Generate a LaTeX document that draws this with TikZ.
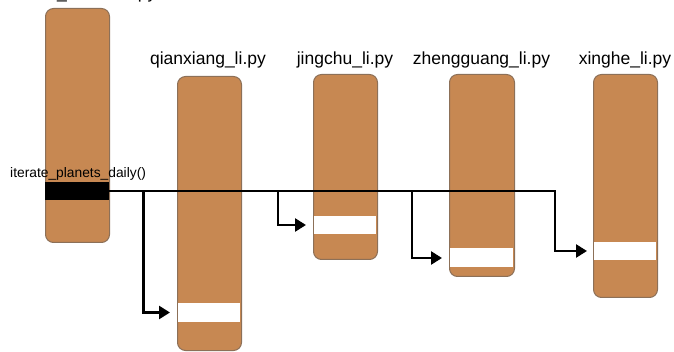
\documentclass[tikz,border=0pt]{standalone}
\usepackage{fontspec}
\setmainfont{Liberation Sans}
\usetikzlibrary{arrows.meta}
\definecolor{boxfill}{RGB}{199,136,82}
\definecolor{boxline}{RGB}{140,112,88}
\tikzset{
  filebox/.style={draw=boxline, fill=boxfill, line width=1pt, rounded corners=8pt, inner sep=0pt, anchor=north west},
  whiteband/.style={fill=white, draw=none, inner sep=0pt, anchor=north west},
  blackband/.style={fill=black, draw=none, inner sep=0pt, anchor=north west},
  filelabel/.style={anchor=base, inner sep=0pt, font=\fontsize{17.5}{20}\selectfont},
  funclabel/.style={anchor=base west, inner sep=0pt, font=\fontsize{13.8}{16}\selectfont},
  callline/.style={line width=2.5pt, line join=miter},
  callarrow/.style={line width=2.5pt, line join=miter, -{Triangle[length=11pt,width=13pt]}}
}
\begin{document}
\begin{tikzpicture}[x=1pt,y=-1pt]
\useasboundingbox (0,0) rectangle (674,352);
% boxes
\node[filebox, minimum width=64pt, minimum height=234pt] (b1) at (45,8) {};
\node[filebox, minimum width=64pt, minimum height=274pt] (b2) at (177,76) {};
\node[filebox, minimum width=64pt, minimum height=185pt] (b3) at (313,74) {};
\node[filebox, minimum width=65pt, minimum height=202pt] (b4) at (449,74) {};
\node[filebox, minimum width=64pt, minimum height=223pt] (b5) at (593,74) {};
% bands
\node[blackband, minimum width=64pt, minimum height=18pt] (k) at (45,182) {};
\node[whiteband, minimum width=62pt, minimum height=19pt] (w2) at (178,303) {};
\node[whiteband, minimum width=62pt, minimum height=18pt] (w3) at (314,216) {};
\node[whiteband, minimum width=63pt, minimum height=19pt] (w4) at (450,248) {};
\node[whiteband, minimum width=62pt, minimum height=18pt] (w5) at (594,242) {};
% labels
\node[filelabel] (l1) at (76.5,-1.5) {chinese\_calendar.py};
\node[filelabel] (l2) at (208,65) {qianxiang\_li.py};
\node[filelabel] (l3) at (345,65) {jingchu\_li.py};
\node[filelabel] (l4) at (481.5,65) {zhengguang\_li.py};
\node[filelabel] (l5) at (625,65) {xinghe\_li.py};
\node[funclabel] (f) at (10,178) {iterate\_planets\_daily()};
% connector points
\coordinate (j2) at (143.5,191);
\coordinate (j3) at (278,191);
\coordinate (j4) at (412,191);
\coordinate (c5) at (555,251);
\coordinate (a2) at (170,312.5);
\coordinate (a3) at (306,225);
\coordinate (a4) at (442,258);
\coordinate (a5) at (587,251);
% connectors
\draw[callarrow] (k.east) -| (c5) -- (a5);
\draw[callarrow] (j2) |- (a2);
\draw[callarrow] (j3) |- (a3);
\draw[callarrow] (j4) |- (a4);
\end{tikzpicture}
\end{document}
